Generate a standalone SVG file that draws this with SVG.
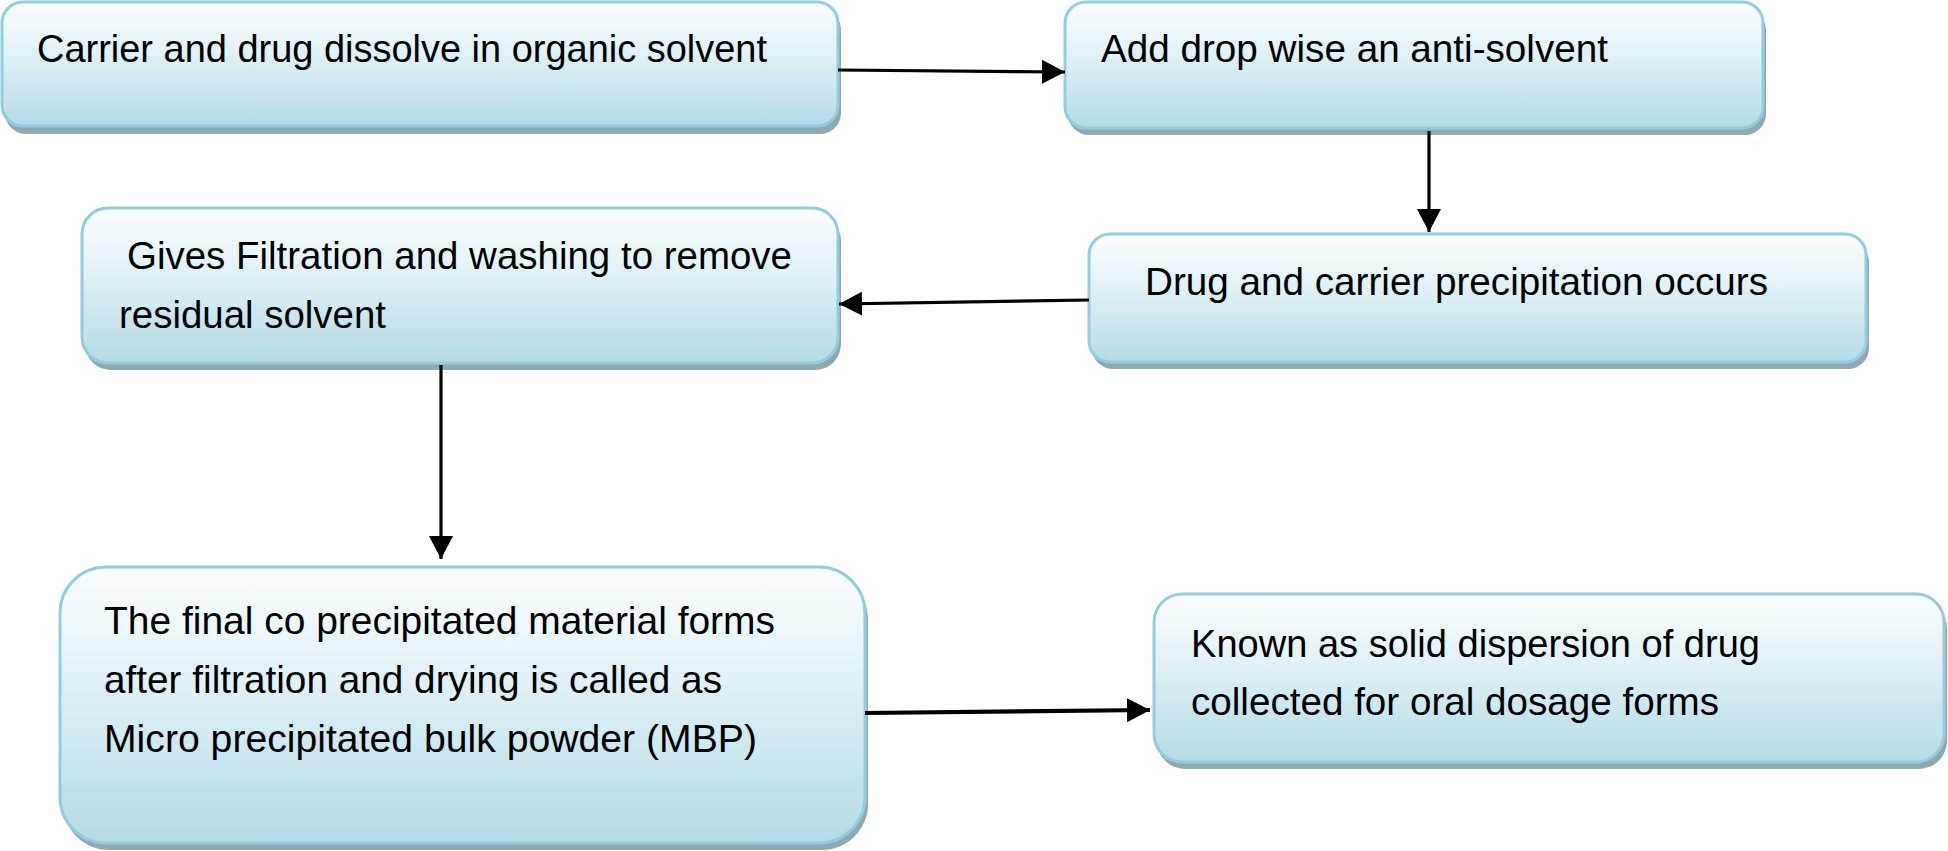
<svg xmlns="http://www.w3.org/2000/svg" width="1948" height="851" viewBox="0 0 1948 851">
<style>
.box{fill:url(#g);stroke:#93cddd;stroke-width:3}
.sh{fill:#8fa9b2}
.t{font-family:"Liberation Sans",Arial,sans-serif;font-size:39px;fill:#000}
.c{stroke:#000;stroke-width:3.2;fill:none;marker-end:url(#ah)}
</style>
<defs>
<linearGradient id="g" x1="0" y1="0" x2="0" y2="1">
<stop offset="0" stop-color="#fbfdfe"/>
<stop offset="0.45" stop-color="#dff0f5"/>
<stop offset="1" stop-color="#b3dbe5"/>
</linearGradient>
<marker id="ah" markerUnits="userSpaceOnUse" markerWidth="26" markerHeight="26" refX="23" refY="12" orient="auto">
<path d="M0,0 L23,12 L0,24 z" fill="#000"/>
</marker>
</defs>
<rect width="1948" height="851" fill="#fff"/>
<g id="n1">
<rect class="sh" x="5" y="9" width="836" height="125" rx="21"/>
<rect class="box" x="2" y="2" width="836" height="124" rx="21"/>
<text class="t" x="37" y="62" textLength="730" lengthAdjust="spacingAndGlyphs">Carrier and drug dissolve in organic solvent</text>
</g>
<g id="n2">
<rect class="sh" x="1068" y="9" width="698" height="126" rx="21"/>
<rect class="box" x="1065" y="2" width="698" height="126" rx="21"/>
<text class="t" x="1101" y="62" textLength="507" lengthAdjust="spacingAndGlyphs">Add drop wise an anti-solvent</text>
</g>
<g id="n3">
<rect class="sh" x="1092" y="241" width="777" height="128" rx="21"/>
<rect class="box" x="1089" y="234" width="777" height="128" rx="21"/>
<text class="t" x="1145" y="295" textLength="623" lengthAdjust="spacingAndGlyphs">Drug and carrier precipitation occurs</text>
</g>
<g id="n4">
<rect class="sh" x="85" y="215" width="756" height="155" rx="26"/>
<rect class="box" x="82" y="208" width="756" height="155" rx="26"/>
<text class="t" x="127" y="269" textLength="665" lengthAdjust="spacingAndGlyphs">Gives Filtration and washing to remove</text>
<text class="t" x="119" y="328" textLength="267" lengthAdjust="spacingAndGlyphs">residual solvent</text>
</g>
<g id="n5">
<rect class="sh" x="63" y="574" width="805" height="276" rx="46"/>
<rect class="box" x="60" y="567" width="805" height="276" rx="46"/>
<text class="t" x="104" y="634" textLength="671" lengthAdjust="spacingAndGlyphs">The final co precipitated material forms</text>
<text class="t" x="104" y="693" textLength="618" lengthAdjust="spacingAndGlyphs">after filtration and drying is called as</text>
<text class="t" x="104" y="752" textLength="653" lengthAdjust="spacingAndGlyphs">Micro precipitated bulk powder (MBP)</text>
</g>
<g id="n6">
<rect class="sh" x="1157" y="601" width="790" height="168" rx="28"/>
<rect class="box" x="1154" y="594" width="790" height="168" rx="28"/>
<text class="t" x="1191" y="657" textLength="569" lengthAdjust="spacingAndGlyphs">Known as solid dispersion of drug</text>
<text class="t" x="1191" y="715" textLength="528" lengthAdjust="spacingAndGlyphs">collected for oral dosage forms</text>
</g>
<g id="connectors">
<path class="c" d="M838,70 L1065,72"/>
<path class="c" d="M1429,131 L1429,232"/>
<path class="c" d="M1089,300 L839,304"/>
<path class="c" d="M441,365 L441,559"/>
<path class="c" style="stroke-width:4.2" d="M865,713 L1150,710"/>
</g>
</svg>
